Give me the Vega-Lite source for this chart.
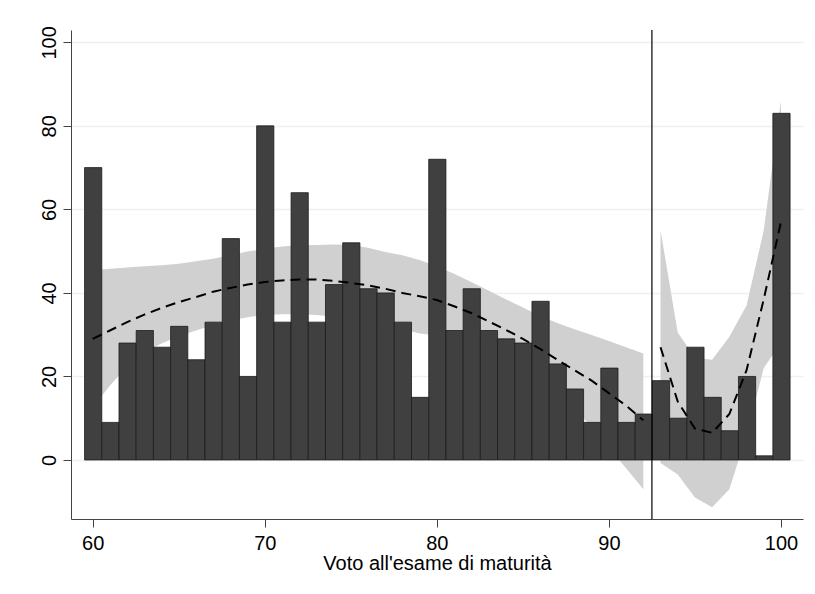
{
  "$schema": "https://vega.github.io/schema/vega-lite/v6.json",
  "width": 732,
  "height": 489,
  "autosize": {"type": "none"},
  "padding": {"left": 71, "top": 30, "right": 12, "bottom": 75},
  "background": "white",
  "config": {
    "view": {"stroke": null},
    "font": "Liberation Sans",
    "bar": {"binSpacing": 0},
    "axis": {
      "domainColor": "#444444",
      "tickColor": "#444444",
      "domainWidth": 1,
      "tickWidth": 1,
      "tickSize": 8,
      "labelFont": "Liberation Sans",
      "labelFontSize": 20,
      "labelColor": "#000000",
      "titleFont": "Liberation Sans",
      "titleFontSize": 20,
      "titleFontWeight": "normal",
      "titleColor": "#000000"
    },
    "axisX": {"grid": false},
    "axisY": {"grid": true, "gridColor": "#eaf2f3", "gridWidth": 1.5}
  },
  "datasets": {
    "hist": [
      {"score": 60, "n": 70}, {"score": 61, "n": 9}, {"score": 62, "n": 28}, {"score": 63, "n": 31},
      {"score": 64, "n": 27}, {"score": 65, "n": 32}, {"score": 66, "n": 24}, {"score": 67, "n": 33},
      {"score": 68, "n": 53}, {"score": 69, "n": 20}, {"score": 70, "n": 80}, {"score": 71, "n": 33},
      {"score": 72, "n": 64}, {"score": 73, "n": 33}, {"score": 74, "n": 42}, {"score": 75, "n": 52},
      {"score": 76, "n": 41}, {"score": 77, "n": 40}, {"score": 78, "n": 33}, {"score": 79, "n": 15},
      {"score": 80, "n": 72}, {"score": 81, "n": 31}, {"score": 82, "n": 41}, {"score": 83, "n": 31},
      {"score": 84, "n": 29}, {"score": 85, "n": 28}, {"score": 86, "n": 38}, {"score": 87, "n": 23},
      {"score": 88, "n": 17}, {"score": 89, "n": 9}, {"score": 90, "n": 22}, {"score": 91, "n": 9},
      {"score": 92, "n": 11}, {"score": 93, "n": 19}, {"score": 94, "n": 10}, {"score": 95, "n": 27},
      {"score": 96, "n": 15}, {"score": 97, "n": 7}, {"score": 98, "n": 20}, {"score": 99, "n": 1},
      {"score": 100, "n": 83}
    ],
    "fit": [
      {"score": 60, "seg": "L", "lo": 12.6, "hi": 45.4, "fit": 29.0},
      {"score": 61, "seg": "L", "lo": 17.8, "hi": 45.8, "fit": 31.0},
      {"score": 62, "seg": "L", "lo": 22.5, "hi": 46.1, "fit": 33.0},
      {"score": 63, "seg": "L", "lo": 25.8, "hi": 46.4, "fit": 34.8},
      {"score": 64, "seg": "L", "lo": 27.9, "hi": 46.6, "fit": 36.4},
      {"score": 65, "seg": "L", "lo": 29.6, "hi": 47.0, "fit": 37.8},
      {"score": 66, "seg": "L", "lo": 31.0, "hi": 47.6, "fit": 39.0},
      {"score": 67, "seg": "L", "lo": 32.3, "hi": 48.2, "fit": 40.3},
      {"score": 68, "seg": "L", "lo": 33.4, "hi": 49.0, "fit": 41.2},
      {"score": 69, "seg": "L", "lo": 34.2, "hi": 49.9, "fit": 42.0},
      {"score": 70, "seg": "L", "lo": 34.7, "hi": 50.6, "fit": 42.6},
      {"score": 71, "seg": "L", "lo": 34.9, "hi": 51.1, "fit": 43.0},
      {"score": 72, "seg": "L", "lo": 34.9, "hi": 51.4, "fit": 43.2},
      {"score": 73, "seg": "L", "lo": 34.7, "hi": 51.5, "fit": 43.2},
      {"score": 74, "seg": "L", "lo": 34.3, "hi": 51.6, "fit": 42.9},
      {"score": 75, "seg": "L", "lo": 33.8, "hi": 51.5, "fit": 42.4},
      {"score": 76, "seg": "L", "lo": 33.1, "hi": 50.8, "fit": 41.8},
      {"score": 77, "seg": "L", "lo": 32.3, "hi": 49.8, "fit": 41.0},
      {"score": 78, "seg": "L", "lo": 31.3, "hi": 49.0, "fit": 40.0},
      {"score": 79, "seg": "L", "lo": 30.3, "hi": 47.9, "fit": 39.2},
      {"score": 80, "seg": "L", "lo": 29.8, "hi": 46.3, "fit": 38.3},
      {"score": 81, "seg": "L", "lo": 28.8, "hi": 44.6, "fit": 36.8},
      {"score": 82, "seg": "L", "lo": 27.5, "hi": 42.6, "fit": 35.2},
      {"score": 83, "seg": "L", "lo": 25.8, "hi": 40.6, "fit": 33.2},
      {"score": 84, "seg": "L", "lo": 23.8, "hi": 38.5, "fit": 31.2},
      {"score": 85, "seg": "L", "lo": 21.5, "hi": 36.5, "fit": 29.0},
      {"score": 86, "seg": "L", "lo": 18.8, "hi": 34.5, "fit": 26.6},
      {"score": 87, "seg": "L", "lo": 15.6, "hi": 32.8, "fit": 24.0},
      {"score": 88, "seg": "L", "lo": 12.0, "hi": 31.3, "fit": 21.5},
      {"score": 89, "seg": "L", "lo": 8.0, "hi": 29.9, "fit": 19.0},
      {"score": 90, "seg": "L", "lo": 3.0, "hi": 28.5, "fit": 16.0},
      {"score": 91, "seg": "L", "lo": -2.0, "hi": 27.0, "fit": 13.0},
      {"score": 92, "seg": "L", "lo": -7.0, "hi": 25.5, "fit": 9.5},
      {"score": 93, "seg": "R", "lo": -0.7, "hi": 55.0, "fit": 27.0},
      {"score": 94, "seg": "R", "lo": -3.5, "hi": 30.5, "fit": 14.0},
      {"score": 95, "seg": "R", "lo": -9.0, "hi": 24.5, "fit": 7.5},
      {"score": 96, "seg": "R", "lo": -11.3, "hi": 24.0, "fit": 6.5},
      {"score": 97, "seg": "R", "lo": -7.0, "hi": 29.5, "fit": 11.0},
      {"score": 98, "seg": "R", "lo": 6.0, "hi": 37.0, "fit": 21.5},
      {"score": 99, "seg": "R", "lo": 22.0, "hi": 55.0, "fit": 38.5},
      {"score": 100, "seg": "R", "lo": 28.0, "hi": 86.0, "fit": 57.0}
    ],
    "cut": [{"c": 92.5}]
  },
  "layer": [
    {
      "data": {"name": "fit"},
      "mark": {"type": "area", "color": "#d0d0d0", "opacity": 1},
      "encoding": {
        "x": {"field": "score", "type": "quantitative",
              "scale": {"domain": [58.74, 101.28], "nice": false, "zero": false},
              "axis": {"values": [60, 70, 80, 90, 100], "labelPadding": 6, "titlePadding": 0},
              "title": "Voto all'esame di maturità"},
        "y": {"field": "lo", "type": "quantitative",
              "scale": {"domain": [-14.13, 102.95], "nice": false, "zero": false},
              "axis": {"values": [0, 20, 40, 60, 80, 100], "labelAngle": -90, "labelAlign": "center", "labelBaseline": "alphabetic", "labelPadding": 8},
              "title": null},
        "y2": {"field": "hi"},
        "detail": {"field": "seg"}
      }
    },
    {
      "data": {"name": "hist"},
      "mark": {"type": "bar", "color": "#404040", "stroke": "#1c1c1c", "strokeWidth": 0.8, "opacity": 1, "binSpacing": 0},
      "encoding": {
        "x": {"field": "score", "type": "quantitative", "bin": {"step": 1, "extent": [59.5, 100.5], "nice": false},
              "axis": {"values": [60, 70, 80, 90, 100], "labelPadding": 6, "titlePadding": 0},
              "title": "Voto all'esame di maturità"},
        "y": {"field": "n", "type": "quantitative", "aggregate": "sum",
              "axis": {"values": [0, 20, 40, 60, 80, 100], "labelAngle": -90, "labelAlign": "center", "labelBaseline": "alphabetic", "labelPadding": 8},
              "title": null}
      }
    },
    {
      "data": {"name": "fit"},
      "mark": {"type": "line", "color": "#000000", "strokeWidth": 2, "strokeDash": [10, 6]},
      "encoding": {
        "x": {"field": "score", "type": "quantitative"},
        "y": {"field": "fit", "type": "quantitative"},
        "detail": {"field": "seg"}
      }
    },
    {
      "data": {"name": "cut"},
      "mark": {"type": "rule", "color": "#000000", "strokeWidth": 1.2},
      "encoding": {
        "x": {"field": "c", "type": "quantitative"}
      }
    }
  ]
}
